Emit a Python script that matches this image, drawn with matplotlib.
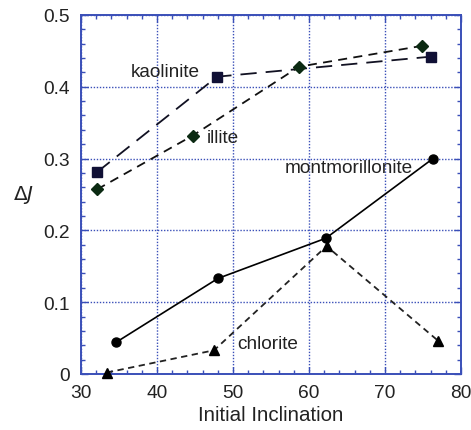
import numpy as np
import matplotlib
matplotlib.use("Agg")
import matplotlib.pyplot as plt
from matplotlib.ticker import MultipleLocator

plt.rcParams['font.family'] = ['Liberation Sans', 'DejaVu Sans']

# data
kao_x = [32.1, 47.9, 76.1]
kao_y = [0.281, 0.414, 0.442]
ill_x = [32.1, 44.7, 58.7, 74.9]
ill_y = [0.257, 0.332, 0.428, 0.457]
mon_x = [34.6, 48.0, 62.2, 76.3]
mon_y = [0.044, 0.133, 0.189, 0.300]
chl_x = [33.4, 47.5, 62.3, 77.0]
chl_y = [0.002, 0.033, 0.178, 0.046]

blue = '#3a4fb8'

fig = plt.figure(figsize=(4.71, 4.31), dpi=100)
ax = fig.add_axes([0.172, 0.130, 0.807, 0.833])

ax.plot(kao_x, kao_y, color='#111122', lw=1.3, dashes=(9, 5), marker='s', ms=7.5,
        mfc='#101035', mec='#101035', zorder=3)
ax.plot(ill_x, ill_y, color='#111111', lw=1.3, dashes=(5, 3.5), marker='D', ms=6,
        mfc='#0b2a12', mec='#0b2a12', zorder=3)
ax.plot(mon_x, mon_y, color='black', lw=1.2, marker='o', ms=6.5, zorder=3)
ax.plot(chl_x, chl_y, color='#222222', lw=1.3, dashes=(3.5, 2.5), marker='^', ms=7.5,
        mfc='black', mec='black', zorder=3, clip_on=False)

ax.text(45.6, 0.421, 'kaolinite', fontsize=13.7, ha='right', va='center', color='#222222')
ax.text(46.6, 0.330, 'illite', fontsize=13.7, ha='left', va='center', color='#222222')
ax.text(73.6, 0.288, 'montmorillonite', fontsize=13.7, ha='right', va='center', color='#222222')
ax.text(50.5, 0.042, 'chlorite', fontsize=13.7, ha='left', va='center', color='#222222')

ax.set_xlim(30, 80)
ax.set_ylim(0, 0.5)
ax.xaxis.set_major_locator(MultipleLocator(10))
ax.xaxis.set_minor_locator(MultipleLocator(2))
ax.yaxis.set_minor_locator(MultipleLocator(0.02))
ax.set_yticks([0, 0.1, 0.2, 0.3, 0.4, 0.5])
ax.set_yticklabels(['0', '0.1', '0.2', '0.3', '0.4', '0.5'])

ax.grid(True, which='major', color=blue, ls=(0, (1, 1.2)), lw=1.0)
for s in ax.spines.values():
    s.set_color(blue)
    s.set_linewidth(1.4)
ax.tick_params(which='both', direction='in', top=True, right=True, color=blue,
               labelsize=13.8, labelcolor='#222222')
ax.tick_params(which='major', length=5, width=1)
ax.tick_params(which='minor', length=3, width=1)
ax.tick_params(axis='x', pad=7)
ax.tick_params(axis='y', pad=8)

ax.set_xlabel('Initial Inclination', fontsize=14.8, color='#222222', labelpad=3)
ax.set_ylabel(r'$\Delta J$', fontsize=14.5, color='#222222', rotation=0, labelpad=14,
              va='center')

fig.savefig('out.png', dpi=100)
